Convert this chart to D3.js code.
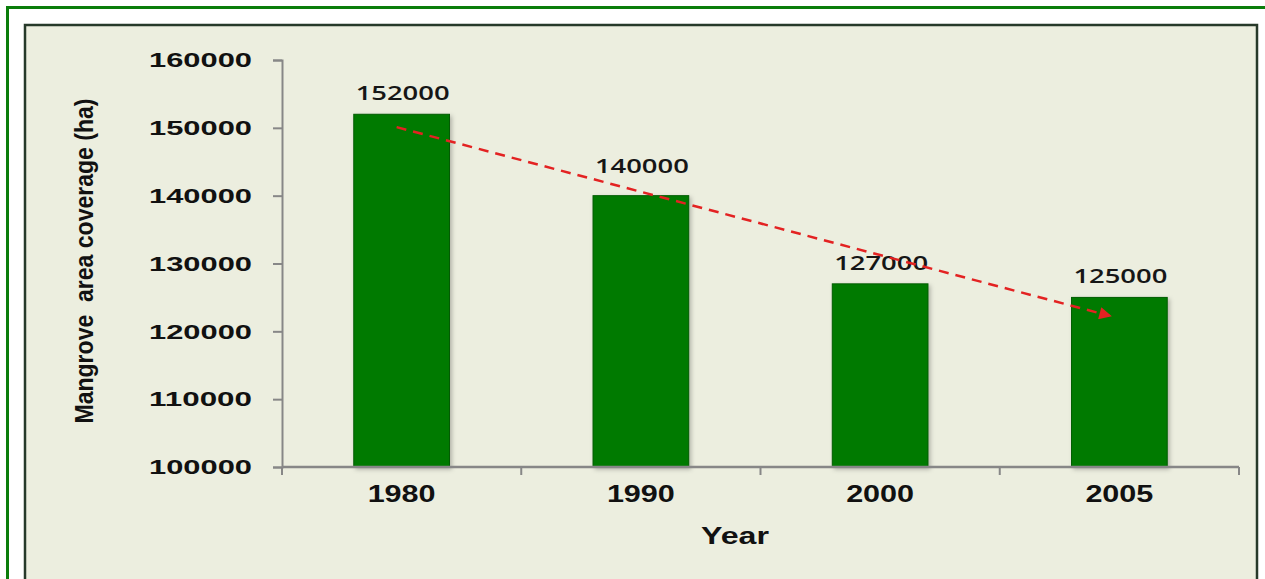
<!DOCTYPE html>
<html>
<head>
<meta charset="utf-8">
<script src="https://cdn.jsdelivr.net/npm/d3@7"></script>
<style>
  body { margin: 0; background: #fff; }
  svg { display: block; }
</style>
</head>
<body>
<svg></svg>
<script>
const years = ["1980", "1990", "2000", "2005"];
const coverage = [152000, 140000, 127000, 125000];
const yTicks = [100000, 110000, 120000, 130000, 140000, 150000, 160000];
const trendYears = ["1980", "2005"];
const trendValues = [150100, 122300];

const width = 1265;
const height = 579;

const svg = d3.select("svg").attr("width", width).attr("height", height);

// frame
svg.append("rect")
  .attr("x", 7.5).attr("y", 7.5)
  .attr("width", width + 20).attr("height", height + 20)
  .attr("fill", "#fff").attr("stroke", "#0b7d0b").attr("stroke-width", 3);

svg.append("rect")
  .attr("x", 25).attr("y", 25)
  .attr("width", 1232).attr("height", 600)
  .attr("fill", "#eceedf").attr("stroke", "#27392a").attr("stroke-width", 2.5);

const defs = svg.append("defs");
const shadow = defs.append("filter").attr("id", "shadow")
  .attr("x", "-10%").attr("y", "-10%").attr("width", "130%").attr("height", "130%");
shadow.append("feDropShadow")
  .attr("dx", 2).attr("dy", 2).attr("stdDeviation", 2)
  .attr("flood-color", "#000").attr("flood-opacity", 0.25);

defs.append("marker")
  .attr("id", "arrow")
  .attr("viewBox", "0 0 10 10")
  .attr("refX", 8).attr("refY", 5)
  .attr("markerWidth", 6).attr("markerHeight", 5)
  .attr("markerUnits", "strokeWidth")
  .attr("orient", "auto")
  .append("path")
  .attr("d", "M0,0L10,5L0,10Z")
  .attr("fill", "#e32222");

const x = d3.scaleBand()
  .domain(years)
  .range([282, 1239])
  .paddingInner(0.6)
  .paddingOuter(0.3);

const y = d3.scaleLinear()
  .domain([100000, 160000])
  .range([467, 60]);

const axisColor = "#878787";

// bars
svg.append("g")
  .selectAll("rect")
  .data(years)
  .join("rect")
  .attr("x", d => x(d))
  .attr("y", (d, i) => y(coverage[i]))
  .attr("width", x.bandwidth())
  .attr("height", (d, i) => y(100000) - y(coverage[i]))
  .attr("fill", "#037a03")
  .attr("stroke", "#025c02")
  .attr("stroke-width", 1)
  .attr("filter", "url(#shadow)");

// y axis
const yAxis = svg.append("g")
  .attr("transform", "translate(282,0)")
  .call(d3.axisLeft(y).tickValues(yTicks).tickSize(9).tickPadding(21)
    .tickFormat(d3.format("d")));
yAxis.select(".domain").attr("stroke", axisColor).attr("stroke-width", 2);
yAxis.selectAll(".tick line").attr("stroke", axisColor).attr("stroke-width", 2);
yAxis.selectAll(".tick text")
  .attr("fill", "#111")
  .attr("font-family", "Liberation Sans, Arial, sans-serif")
  .attr("font-weight", "bold")
  .attr("font-size", 21)
  .attr("textLength", 103)
  .attr("lengthAdjust", "spacingAndGlyphs");

// x axis
const gap = x.step() - x.bandwidth();
const bounds = years.map(d => x(d) - gap / 2).concat([x.range()[1]]);
const xAxis = svg.append("g");
xAxis.append("line")
  .attr("x1", x.range()[0]).attr("x2", x.range()[1])
  .attr("y1", y(100000)).attr("y2", y(100000))
  .attr("stroke", axisColor).attr("stroke-width", 2.5);
xAxis.selectAll(".xt")
  .data(bounds)
  .join("line")
  .attr("class", "xt")
  .attr("x1", d => d).attr("x2", d => d)
  .attr("y1", y(100000)).attr("y2", y(100000) + 8)
  .attr("stroke", axisColor).attr("stroke-width", 2);
xAxis.selectAll(".xl")
  .data(years)
  .join("text")
  .attr("class", "xl")
  .attr("x", d => x(d) + x.bandwidth() / 2)
  .attr("y", 502)
  .attr("text-anchor", "middle")
  .attr("font-family", "Liberation Sans, Arial, sans-serif")
  .attr("font-weight", "bold")
  .attr("font-size", 23)
  .attr("fill", "#111")
  .attr("textLength", 68)
  .attr("lengthAdjust", "spacingAndGlyphs")
  .text(d => d);

// axis titles
svg.append("text")
  .attr("x", 735).attr("y", 544)
  .attr("text-anchor", "middle")
  .attr("font-family", "Liberation Sans, Arial, sans-serif")
  .attr("font-weight", "bold")
  .attr("font-size", 23)
  .attr("fill", "#111")
  .attr("textLength", 68)
  .attr("lengthAdjust", "spacingAndGlyphs")
  .text("Year");

svg.append("text")
  .attr("transform", "translate(93,261) rotate(-90)")
  .attr("text-anchor", "middle")
  .attr("font-family", "Liberation Sans Narrow, Liberation Sans, Arial, sans-serif")
  .attr("font-weight", "bold")
  .attr("font-size", 25)
  .attr("fill", "#111")
  .attr("textLength", 325)
  .attr("lengthAdjust", "spacingAndGlyphs")
  .style("white-space", "pre")
  .text("Mangrove  area coverage (ha)");

// value labels
const labelLift = { "1990": 9 };
svg.append("g")
  .selectAll("text")
  .data(years)
  .join("text")
  .attr("x", d => x(d) + x.bandwidth() / 2 + 1)
  .attr("y", (d, i) => y(coverage[i]) - 14 - (labelLift[d] || 0))
  .attr("text-anchor", "middle")
  .attr("font-family", "Open Sans, sans-serif")
  .attr("font-weight", 600)
  .attr("font-size", 19)
  .attr("fill", "#161616")
  .attr("textLength", 94)
  .attr("lengthAdjust", "spacingAndGlyphs")
  .text((d, i) => coverage[i]);

// trend arrow
const tx = [x(trendYears[0]) + x.bandwidth() / 2 - 5, x(trendYears[1]) + x.bandwidth() / 2 - 10];
svg.append("line")
  .attr("x1", tx[0]).attr("y1", y(trendValues[0]))
  .attr("x2", tx[1]).attr("y2", y(trendValues[1]))
  .attr("stroke", "#e32222")
  .attr("stroke-width", 2.5)
  .attr("stroke-dasharray", "10,7")
  .attr("marker-end", "url(#arrow)");
</script>
</body>
</html>
